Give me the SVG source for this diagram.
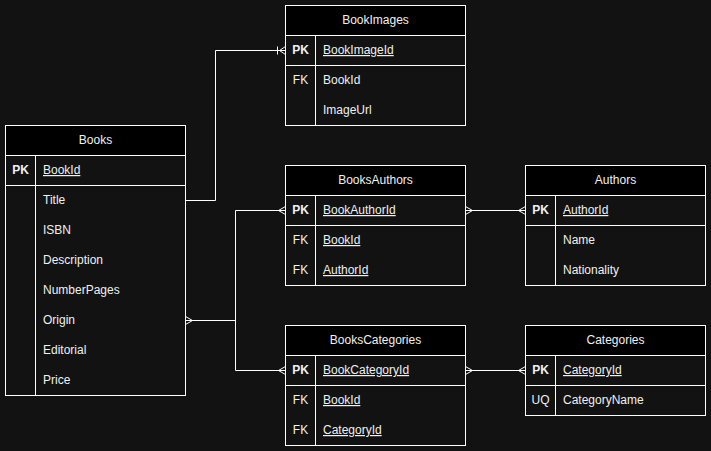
<svg xmlns="http://www.w3.org/2000/svg" width="711" height="451" viewBox="0 0 711 451">
<style>
.bg{fill:#121212}
.hd{fill:#000000;stroke:#ffffff;stroke-width:1}
.bd{fill:#121212;stroke:#ffffff;stroke-width:1}
.ln{stroke:#ffffff;stroke-width:1;fill:none}
text{font-family:"Liberation Sans",Arial,Helvetica,sans-serif;font-size:12px;fill:#f0f0f0}
.t{text-anchor:middle}
.k{text-anchor:middle}
.pk{font-weight:bold;text-anchor:middle}
.u{text-decoration:underline}
</style>
<rect class="bg" x="0" y="0" width="711" height="451"/>

<g id="BookImages">
<rect class="bd" x="285.5" y="5.5" width="180" height="120"/>
<rect class="hd" x="285.5" y="5.5" width="180" height="30"/>
<line class="ln" x1="285.5" y1="65.5" x2="465.5" y2="65.5"/>
<line class="ln" x1="315.5" y1="35.5" x2="315.5" y2="125.5"/>
<text class="t" x="375.5" y="24">BookImages</text>
<text class="pk" x="300.5" y="54">PK</text>
<text class="u" x="323" y="54">BookImageId</text>
<text class="k" x="300.5" y="84">FK</text>
<text x="323" y="84">BookId</text>
<text x="323" y="114">ImageUrl</text>
</g>

<g id="Books">
<rect class="bd" x="5.5" y="125.5" width="180" height="270"/>
<rect class="hd" x="5.5" y="125.5" width="180" height="30"/>
<line class="ln" x1="5.5" y1="185.5" x2="185.5" y2="185.5"/>
<line class="ln" x1="35.5" y1="155.5" x2="35.5" y2="395.5"/>
<text class="t" x="95.5" y="144">Books</text>
<text class="pk" x="20.5" y="174">PK</text>
<text class="u" x="43" y="174">BookId</text>
<text x="43" y="204">Title</text>
<text x="43" y="234">ISBN</text>
<text x="43" y="264">Description</text>
<text x="43" y="294">NumberPages</text>
<text x="43" y="324">Origin</text>
<text x="43" y="354">Editorial</text>
<text x="43" y="384">Price</text>
</g>

<g id="BooksAuthors">
<rect class="bd" x="285.5" y="165.5" width="180" height="120"/>
<rect class="hd" x="285.5" y="165.5" width="180" height="30"/>
<line class="ln" x1="285.5" y1="225.5" x2="465.5" y2="225.5"/>
<line class="ln" x1="315.5" y1="195.5" x2="315.5" y2="285.5"/>
<text class="t" x="375.5" y="184">BooksAuthors</text>
<text class="pk" x="300.5" y="214">PK</text>
<text class="u" x="323" y="214">BookAuthorId</text>
<text class="k" x="300.5" y="244">FK</text>
<text class="u" x="323" y="244">BookId</text>
<text class="k" x="300.5" y="274">FK</text>
<text class="u" x="323" y="274">AuthorId</text>
</g>

<g id="Authors">
<rect class="bd" x="525.5" y="165.5" width="180" height="120"/>
<rect class="hd" x="525.5" y="165.5" width="180" height="30"/>
<line class="ln" x1="525.5" y1="225.5" x2="705.5" y2="225.5"/>
<line class="ln" x1="555.5" y1="195.5" x2="555.5" y2="285.5"/>
<text class="t" x="615.5" y="184">Authors</text>
<text class="pk" x="540.5" y="214">PK</text>
<text class="u" x="563" y="214">AuthorId</text>
<text x="563" y="244">Name</text>
<text x="563" y="274">Nationality</text>
</g>

<g id="BooksCategories">
<rect class="bd" x="285.5" y="325.5" width="180" height="120"/>
<rect class="hd" x="285.5" y="325.5" width="180" height="30"/>
<line class="ln" x1="285.5" y1="385.5" x2="465.5" y2="385.5"/>
<line class="ln" x1="315.5" y1="355.5" x2="315.5" y2="445.5"/>
<text class="t" x="375.5" y="344">BooksCategories</text>
<text class="pk" x="300.5" y="374">PK</text>
<text class="u" x="323" y="374">BookCategoryId</text>
<text class="k" x="300.5" y="404">FK</text>
<text class="u" x="323" y="404">BookId</text>
<text class="k" x="300.5" y="434">FK</text>
<text class="u" x="323" y="434">CategoryId</text>
</g>

<g id="Categories">
<rect class="bd" x="525.5" y="325.5" width="180" height="90"/>
<rect class="hd" x="525.5" y="325.5" width="180" height="30"/>
<line class="ln" x1="525.5" y1="385.5" x2="705.5" y2="385.5"/>
<line class="ln" x1="555.5" y1="355.5" x2="555.5" y2="415.5"/>
<text class="t" x="615.5" y="344">Categories</text>
<text class="pk" x="540.5" y="374">PK</text>
<text class="u" x="563" y="374">CategoryId</text>
<text class="k" x="540.5" y="404">UQ</text>
<text x="563" y="404">CategoryName</text>
</g>

<g id="connectors">
<!-- Books.Title -> BookImages -->
<polyline class="ln" points="185.5,200.5 215.5,200.5 215.5,50.5 285.5,50.5"/>
<line class="ln" x1="277.5" y1="46.5" x2="277.5" y2="54.5"/>
<polyline class="ln" points="285.5,46.5 279.5,50.5 285.5,54.5"/>
<!-- Books.Origin -> BooksAuthors / BooksCategories -->
<polyline class="ln" points="185.5,320.5 235.5,320.5"/>
<polyline class="ln" points="285.5,210.5 235.5,210.5 235.5,370.5 285.5,370.5"/>
<polyline class="ln" points="185.5,316.5 192.5,320.5 185.5,324.5"/>
<polyline class="ln" points="285.5,206.5 278.5,210.5 285.5,214.5"/>
<polyline class="ln" points="285.5,366.5 278.5,370.5 285.5,374.5"/>
<!-- BooksAuthors -> Authors -->
<line class="ln" x1="465.5" y1="210.5" x2="525.5" y2="210.5"/>
<polyline class="ln" points="465.5,206.5 472.5,210.5 465.5,214.5"/>
<polyline class="ln" points="525.5,206.5 518.5,210.5 525.5,214.5"/>
<!-- BooksCategories -> Categories -->
<line class="ln" x1="465.5" y1="370.5" x2="525.5" y2="370.5"/>
<polyline class="ln" points="465.5,366.5 472.5,370.5 465.5,374.5"/>
<polyline class="ln" points="525.5,366.5 518.5,370.5 525.5,374.5"/>
</g>
</svg>
